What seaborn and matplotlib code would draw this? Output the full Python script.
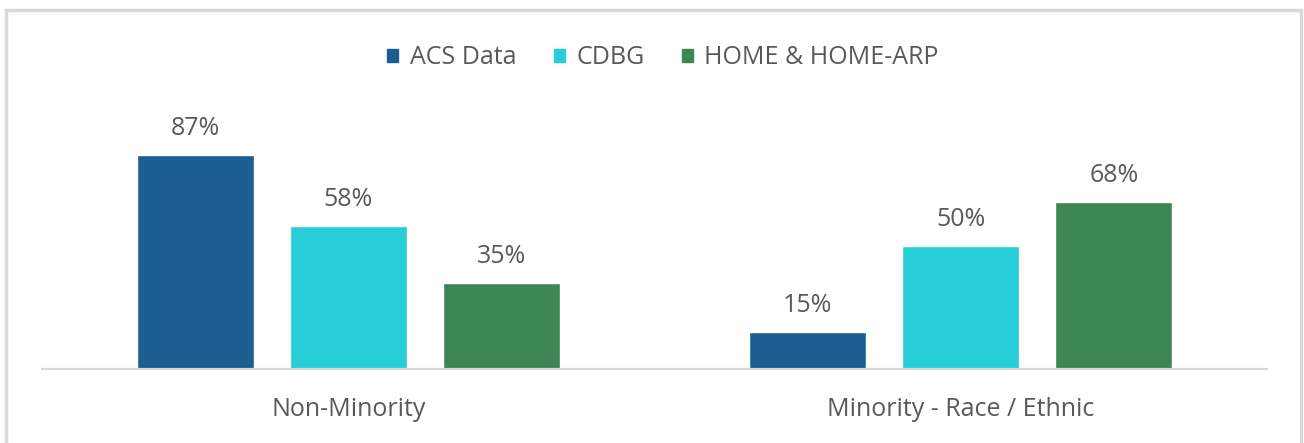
import matplotlib.pyplot as plt
import matplotlib.patches as mpatches
import pandas as pd
import seaborn as sns

categories = ['Non-Minority', 'Minority - Race / Ethnic']
series = ['ACS Data', 'CDBG', 'HOME & HOME-ARP']
acs = [87, 15]
cdbg = [58, 50]
home = [35, 68]
colors = ['#1C5E91', '#27CED7', '#3C8654']

df = pd.DataFrame({
    'category': categories * 3,
    'source': [s for s in series for _ in categories],
    'value': acs + cdbg + home,
})

sns.set_style('white')
plt.rcParams['font.family'] = ['Open Sans', 'DejaVu Sans']

fig = plt.figure(figsize=(13.04, 4.43), dpi=100)
ax = fig.add_axes([42 / 1304, 1 - 369 / 443, 1225 / 1304, 269 / 443])

sns.barplot(data=df, x='category', y='value', hue='source', palette=colors,
            saturation=1, width=0.75, gap=0.235, ax=ax, legend=False)

ax.set_ylim(0, 269 / 2.46)
ax.set_xlim(-0.5, 1.5)
for c in ax.containers:
    ax.bar_label(c, labels=[f'{v:.0f}%' for v in c.datavalues], padding=10,
                 fontsize=18, color='#595959')

for s in ['top', 'right', 'left']:
    ax.spines[s].set_visible(False)
ax.spines['bottom'].set_color('#D9D9D9')
ax.spines['bottom'].set_linewidth(1.6)
ax.set_yticks([])
ax.set_xlabel('')
ax.set_ylabel('')
ax.tick_params(axis='x', length=0, pad=20, labelsize=18, labelcolor='#595959')

handles = [mpatches.Patch(color=col, label=s) for col, s in zip(colors, series)]
fig.legend(handles=handles, loc='center', bbox_to_anchor=(663 / 1304, 1 - 58 / 443),
           ncol=3, frameon=False, fontsize=18, handlelength=0.45, handleheight=0.45,
           handletextpad=0.45, columnspacing=1.5, labelcolor='#595959')

# outer chart frame
fig.patches.append(mpatches.Rectangle((6 / 1304, -0.05), 1295 / 1304, 1.05 - 10 / 443,
                                      transform=fig.transFigure, fill=False,
                                      edgecolor='#D9D9D9', linewidth=2.5))

fig.savefig('out.png', dpi=100)
